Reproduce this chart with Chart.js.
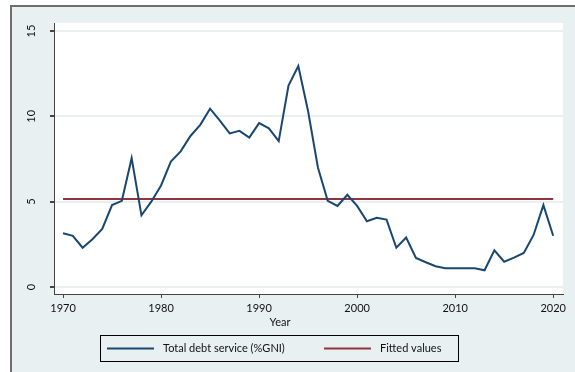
<!DOCTYPE html>
<html>
<head>
<meta charset="utf-8">
<script src="https://cdn.jsdelivr.net/npm/chart.js@4"></script>
<style>
  html, body { margin: 0; padding: 0; background: #fff; }
  #wrap { width: 575px; height: 372px; }
</style>
</head>
<body>
<div id="wrap"><canvas id="debtChart" width="575" height="372"></canvas></div>
<script>
const years = [1970, 1971, 1972, 1973, 1974, 1975, 1976, 1977, 1978, 1979,
    1980, 1981, 1982, 1983, 1984, 1985, 1986, 1987, 1988, 1989,
    1990, 1991, 1992, 1993, 1994, 1995, 1996, 1997, 1998, 1999,
    2000, 2001, 2002, 2003, 2004, 2005, 2006, 2007, 2008, 2009,
    2010, 2011, 2012, 2013, 2014, 2015, 2016, 2017, 2018, 2019, 2020];
const debtService = [3.15, 3.0, 2.3, 2.8, 3.4, 4.8, 5.05, 7.55, 4.2, 5.0,
    5.95, 7.35, 7.95, 8.85, 9.5, 10.45, 9.75, 9.0, 9.15, 8.75,
    9.6, 9.3, 8.55, 11.8, 12.95, 10.3, 7.0, 5.05, 4.75, 5.4,
    4.75, 3.85, 4.05, 3.95, 2.3, 2.9, 1.7, 1.45, 1.22, 1.1,
    1.1, 1.1, 1.1, 0.98, 2.15, 1.48, 1.72, 2.0, 3.05, 4.8, 3.0];
const fittedYears = [1970, 2020];
const fittedValues = [5.15, 5.15];

const yTicks = [0, 5, 10, 15];
const xTicks = [1970, 1980, 1990, 2000, 2010, 2020];

const seriesLabels = ["Total debt service (%GNI)", "Fitted values"];
const xTitle = "Year";

const BLUE = "#1a476f";
const RED = "#90353b";
const BG = "#e8f0f2";
const FONT = "Lato, 'DejaVu Sans', sans-serif";

// background, outer frame and white plot region
const frame = {
    id: "frame",
    beforeDraw(chart) {
        const ctx = chart.ctx;
        const a = chart.chartArea;
        ctx.save();
        ctx.fillStyle = "#fff";
        ctx.fillRect(0, 0, chart.width, chart.height);
        ctx.fillStyle = BG;
        ctx.fillRect(11, 6, chart.width - 11, chart.height - 6);
        ctx.strokeStyle = "#6e6e6e";
        ctx.lineWidth = 2;
        ctx.beginPath();
        ctx.moveTo(11, chart.height);
        ctx.lineTo(11, 6);
        ctx.lineTo(chart.width, 6);
        ctx.stroke();
        ctx.fillStyle = "#fff";
        ctx.fillRect(a.left, a.top, a.right - a.left, a.bottom - a.top);
        ctx.restore();
    },
    afterDraw(chart) {
        const ctx = chart.ctx;
        const ys = chart.scales.y;
        ctx.save();
        ctx.fillStyle = "#111";
        ctx.font = "11px " + FONT;
        ctx.textAlign = "center";
        ctx.textBaseline = "middle";
        // rotated y tick labels
        yTicks.forEach((v) => {
            ctx.save();
            ctx.translate(31, ys.getPixelForValue(v));
            ctx.rotate(-Math.PI / 2);
            ctx.fillText(String(v), 0, 0);
            ctx.restore();
        });

        // x axis title
        ctx.fillText(xTitle, 280, 322);

        // legend box
        ctx.strokeStyle = "#000";
        ctx.lineWidth = 1;
        ctx.strokeRect(100.5, 335.5, 358, 26);
        const items = [
            { x: 107, color: BLUE, text: seriesLabels[0] },
            { x: 324, color: RED, text: seriesLabels[1] }
        ];
        ctx.textAlign = "left";
        items.forEach((it) => {
            ctx.strokeStyle = it.color;
            ctx.lineWidth = 2;
            ctx.beginPath();
            ctx.moveTo(it.x, 348.5);
            ctx.lineTo(it.x + 47, 348.5);
            ctx.stroke();
            ctx.fillStyle = "#111";
            ctx.fillText(it.text, it.x + 56, 348.5);
        });
        ctx.restore();
    }
};

new Chart(document.getElementById("debtChart"), {
    type: "line",
    data: {
        datasets: [{
            label: seriesLabels[0],
            data: years.map((y, i) => ({ x: y, y: debtService[i] })),
            borderColor: BLUE,
            borderWidth: 2,
            pointRadius: 0,
            tension: 0
        }, {
            label: seriesLabels[1],
            data: fittedYears.map((y, i) => ({ x: y, y: fittedValues[i] })),
            borderColor: RED,
            borderWidth: 2,
            pointRadius: 0,
            tension: 0
        }]
    },
    options: {
        responsive: false,
        animation: false,
        layout: { padding: { left: 0, top: 23, right: 12, bottom: 0 } },
        plugins: {
            legend: { display: false },
            tooltip: { enabled: false }
        },
        scales: {
            x: {
                type: "linear",
                min: 1969.08,
                max: 2021.0,
                afterBuildTicks: (s) => { s.ticks = xTicks.map((v) => ({ value: v })); },
                afterFit: (s) => { s.height = 78; },
                border: { color: "#444", width: 1 },
                grid: { drawOnChartArea: false, tickLength: 4, tickColor: "#444" },
                ticks: {
                    color: "#111",
                    font: { family: FONT, size: 11 },
                    padding: 4,
                    callback: (v) => String(v)
                }
            },
            y: {
                min: -0.41,
                max: 15.47,
                afterBuildTicks: (s) => { s.ticks = yTicks.map((v) => ({ value: v })); },
                afterFit: (s) => { s.width = 54; },
                border: { color: "#444", width: 1 },
                grid: { color: BG, lineWidth: 2, tickLength: 4, tickColor: "#444" },
                ticks: { display: false }
            }
        }
    },
    plugins: [frame]
});
</script>
</body>
</html>
